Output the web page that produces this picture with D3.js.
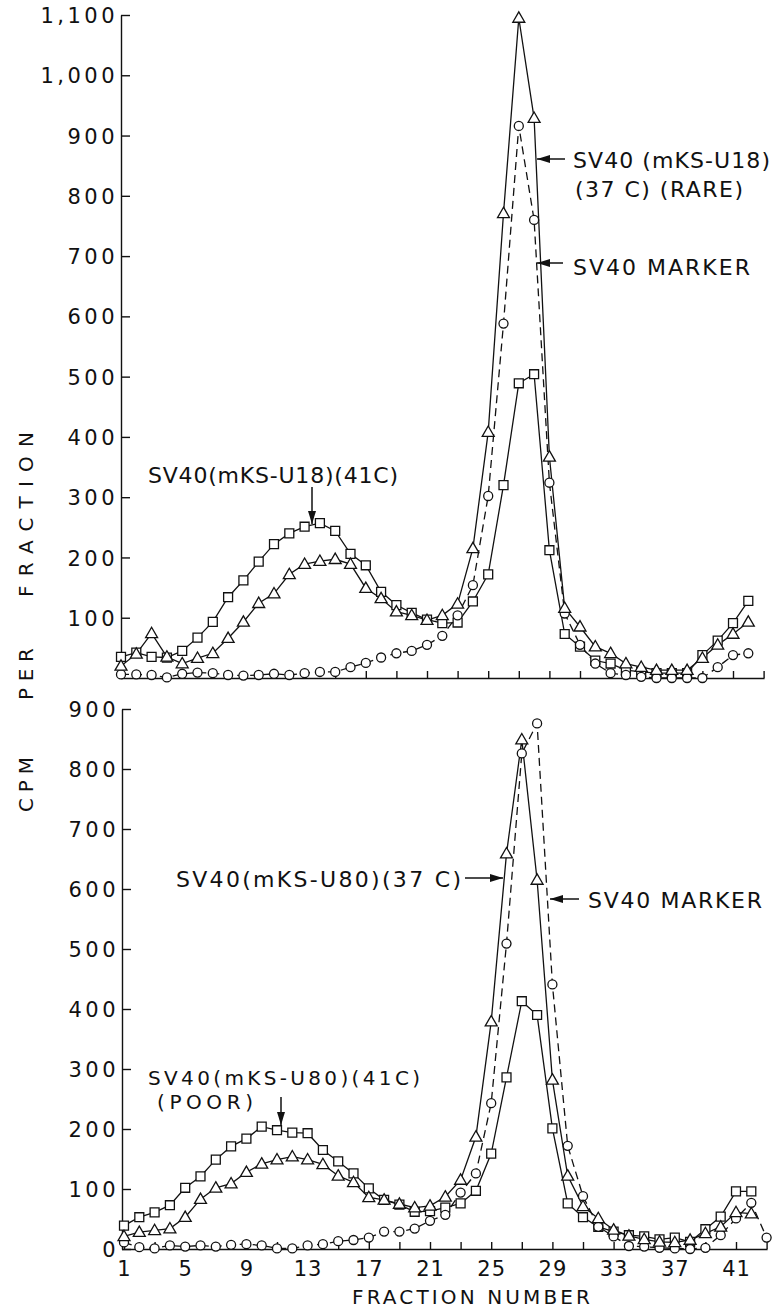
<!DOCTYPE html>
<html>
<head>
<meta charset="utf-8">
<script src="https://cdn.jsdelivr.net/npm/d3@7/dist/d3.min.js"></script>
<style>
  html, body { margin: 0; padding: 0; background: #fff; }
  svg { display: block; }
  text { font-family: "DejaVu Sans", sans-serif; fill: #111; }
</style>
</head>
<body>
<svg id="chart" width="773" height="1311"></svg>
<script>
// ---------------- DATA ----------------
const fractionsTop = d3.range(1, 43);          // 1..42
const fractionsBottom = d3.range(1, 44);       // 1..43 (marker has an extra point)

// Top panel: SV40 (mKS-U18)
const topSquares41C = [35,42,35,34,45,67,93,134,162,193,222,240,251,257,244,206,187,143,121,108,97,91,92,127,172,320,489,504,212,73,52,29,24,13,10,8,8,8,38,62,91,128];
const topTriangles37C = [20,40,74,35,24,33,41,66,93,124,140,172,189,194,197,189,149,132,110,104,96,104,123,215,408,771,1095,929,367,116,85,52,41,24,18,13,13,13,33,55,73,93];
const topCirclesMarker = [6,6,5,1,7,9,8,5,4,5,7,5,8,10,10,18,25,34,41,45,55,70,104,154,302,588,916,760,324,107,55,24,8,5,2,0,0,0,0,18,38,41];

// Bottom panel: SV40 (mKS-U80)
const botSquares41C = [39,53,61,73,102,121,149,171,184,204,198,194,193,165,146,126,101,82,74,62,63,69,76,97,159,286,413,390,201,76,53,37,29,23,21,16,19,12,33,54,96,96];
const botTriangles37C = [21,28,31,34,53,83,102,109,128,142,149,154,149,141,122,111,86,82,75,69,72,87,115,187,379,659,849,615,282,122,71,51,32,22,16,12,11,15,26,37,61,59];
const botCirclesMarker = [11,3,1,6,4,6,4,7,8,6,1,1,6,8,13,15,19,29,29,34,47,57,94,126,243,509,826,876,441,172,88,37,21,5,4,2,1,0,2,23,51,77,19];

// Tick values / labels
const topYTicks = d3.range(100, 1101, 100);
const botYTicks = d3.range(0, 901, 100);
const xTicks = d3.range(1, 44, 2);
const xTickLabels = [1,5,9,13,17,21,25,29,33,37,41];

// ---------------- DRAW ----------------
const svg = d3.select("#chart");
svg.append("rect").attr("width", 773).attr("height", 1311).attr("fill", "#fff");

const INK = "#111";

function zip(fr, vals) { return vals.map((v, i) => ({ f: fr[i], v })); }

function panel(cfg) {
  const x = d3.scaleLinear().domain([1, 43]).range(cfg.xRange);
  const y = d3.scaleLinear().domain(cfg.yDomain).range(cfg.yRange);
  const g = svg.append("g");

  // y axis (inward ticks)
  const yAxis = d3.axisLeft(y).tickValues(cfg.yTicks).tickSizeInner(-9).tickSizeOuter(0)
    .tickPadding(3).tickFormat(d3.format(","));
  const ya = g.append("g").attr("transform", `translate(${cfg.yAxisX},0)`).call(yAxis);
  ya.selectAll("path, line").attr("stroke", INK).attr("stroke-width", 1.4);
  ya.selectAll("text").style("font-size", "21px").style("letter-spacing", "3.5px")
    .attr("fill", INK).attr("dy", "0.36em");

  // x axis (inward ticks)
  const xAxis = d3.axisBottom(x).tickValues(xTicks).tickSizeInner(-7).tickSizeOuter(0)
    .tickPadding(12).tickFormat(d => (cfg.xLabels && xTickLabels.includes(d)) ? d : "");
  const xa = g.append("g").attr("transform", `translate(0,${cfg.yRange[0]})`).call(xAxis);
  xa.select("path.domain").attr("d", `M${cfg.yAxisX},0.5H${cfg.xRange[1] + 1}`);
  xa.selectAll("path, line").attr("stroke", INK).attr("stroke-width", 1.4);
  xa.selectAll("text").style("font-size", "21px").style("letter-spacing", "1px").attr("fill", INK);

  const line = d3.line().x(d => x(d.f)).y(d => y(d.v));

  const series = [
    { data: zip(cfg.fr, cfg.squares), shape: "square", dash: null },
    { data: zip(cfg.frC, cfg.circles), shape: "circle", dash: "8,5" },
    { data: zip(cfg.fr, cfg.triangles), shape: "triangle", dash: null }
  ];

  series.forEach(s => {
    g.append("path").datum(s.data).attr("d", line)
      .attr("fill", "none").attr("stroke", INK).attr("stroke-width", 1.3)
      .attr("stroke-dasharray", s.dash);
  });

  const sym = {
    square: d3.symbol().type(d3.symbolSquare).size(80),
    circle: d3.symbol().type(d3.symbolCircle).size(64),
    triangle: d3.symbol().type(d3.symbolTriangle).size(62)
  };
  series.forEach(s => {
    g.append("g").selectAll("path").data(s.data).join("path")
      .attr("d", sym[s.shape])
      .attr("transform", d => `translate(${x(d.f)},${y(d.v) + (s.shape === "triangle" ? 0.8 : 0)})`)
      .attr("fill", "#fff").attr("stroke", INK).attr("stroke-width", 1.3);
  });
  return { x, y };
}

panel({
  xRange: [121, 763.6], yDomain: [0, 1100], yRange: [678, 15], yAxisX: 121,
  yTicks: topYTicks, xLabels: false,
  fr: fractionsTop, frC: fractionsTop,
  squares: topSquares41C, triangles: topTriangles37C, circles: topCirclesMarker
});

panel({
  xRange: [124, 766.6], yDomain: [0, 900], yRange: [1249, 709], yAxisX: 122,
  yTicks: botYTicks, xLabels: true,
  fr: fractionsTop, frC: fractionsBottom,
  squares: botSquares41C, triangles: botTriangles37C, circles: botCirclesMarker
});

// ---------------- ANNOTATIONS ----------------
function label(str, x, y, len, size) {
  svg.append("text").attr("x", x).attr("y", y).text(str)
    .style("font-size", (size || 22) + "px")
    .attr("textLength", len).attr("lengthAdjust", "spacing");
}
function arrow(x1, y1, x2, y2) {
  svg.append("line").attr("x1", x1).attr("y1", y1).attr("x2", x2).attr("y2", y2)
    .attr("stroke", INK).attr("stroke-width", 1.5);
  const ang = Math.atan2(y2 - y1, x2 - x1), L = 13, W = 4;
  const bx = x2 - L * Math.cos(ang), by = y2 - L * Math.sin(ang);
  const px = -Math.sin(ang) * W, py = Math.cos(ang) * W;
  svg.append("path").attr("d", `M${x2},${y2}L${bx + px},${by + py}L${bx - px},${by - py}Z`).attr("fill", INK);
}

// top panel
label("SV40(mKS-U18)(41C)", 148, 483, 250);
arrow(312, 487, 312, 524);
label("SV40 (mKS-U18)", 573, 168, 197);
label("(37 C) (RARE)", 575, 197, 168);
arrow(565, 159, 537, 159);
label("SV40 MARKER", 573, 275, 177);
arrow(563, 263, 537, 263);

// bottom panel
label("SV40(mKS-U80)(37 C)", 176, 887, 285);
arrow(465, 878, 503, 878);
label("SV40 MARKER", 588, 908, 174);
arrow(579, 899, 550, 899);
label("SV40(mKS-U80)(41C)", 148, 1085, 272, 20);
label("(POOR)", 157, 1109, 96, 20);
arrow(281, 1097, 281, 1125);

// axis titles
label("FRACTION NUMBER", 352, 1304, 238, 20);
function vlabel(str, yBottom, len) {
  svg.append("text").attr("transform", `translate(33,${yBottom}) rotate(-90)`).text(str)
    .style("font-size", "20px").attr("textLength", len).attr("lengthAdjust", "spacing");
}
vlabel("CPM", 812, 55);
vlabel("PER", 700, 52);
vlabel("FRACTION", 597, 165);
</script>
</body>
</html>
